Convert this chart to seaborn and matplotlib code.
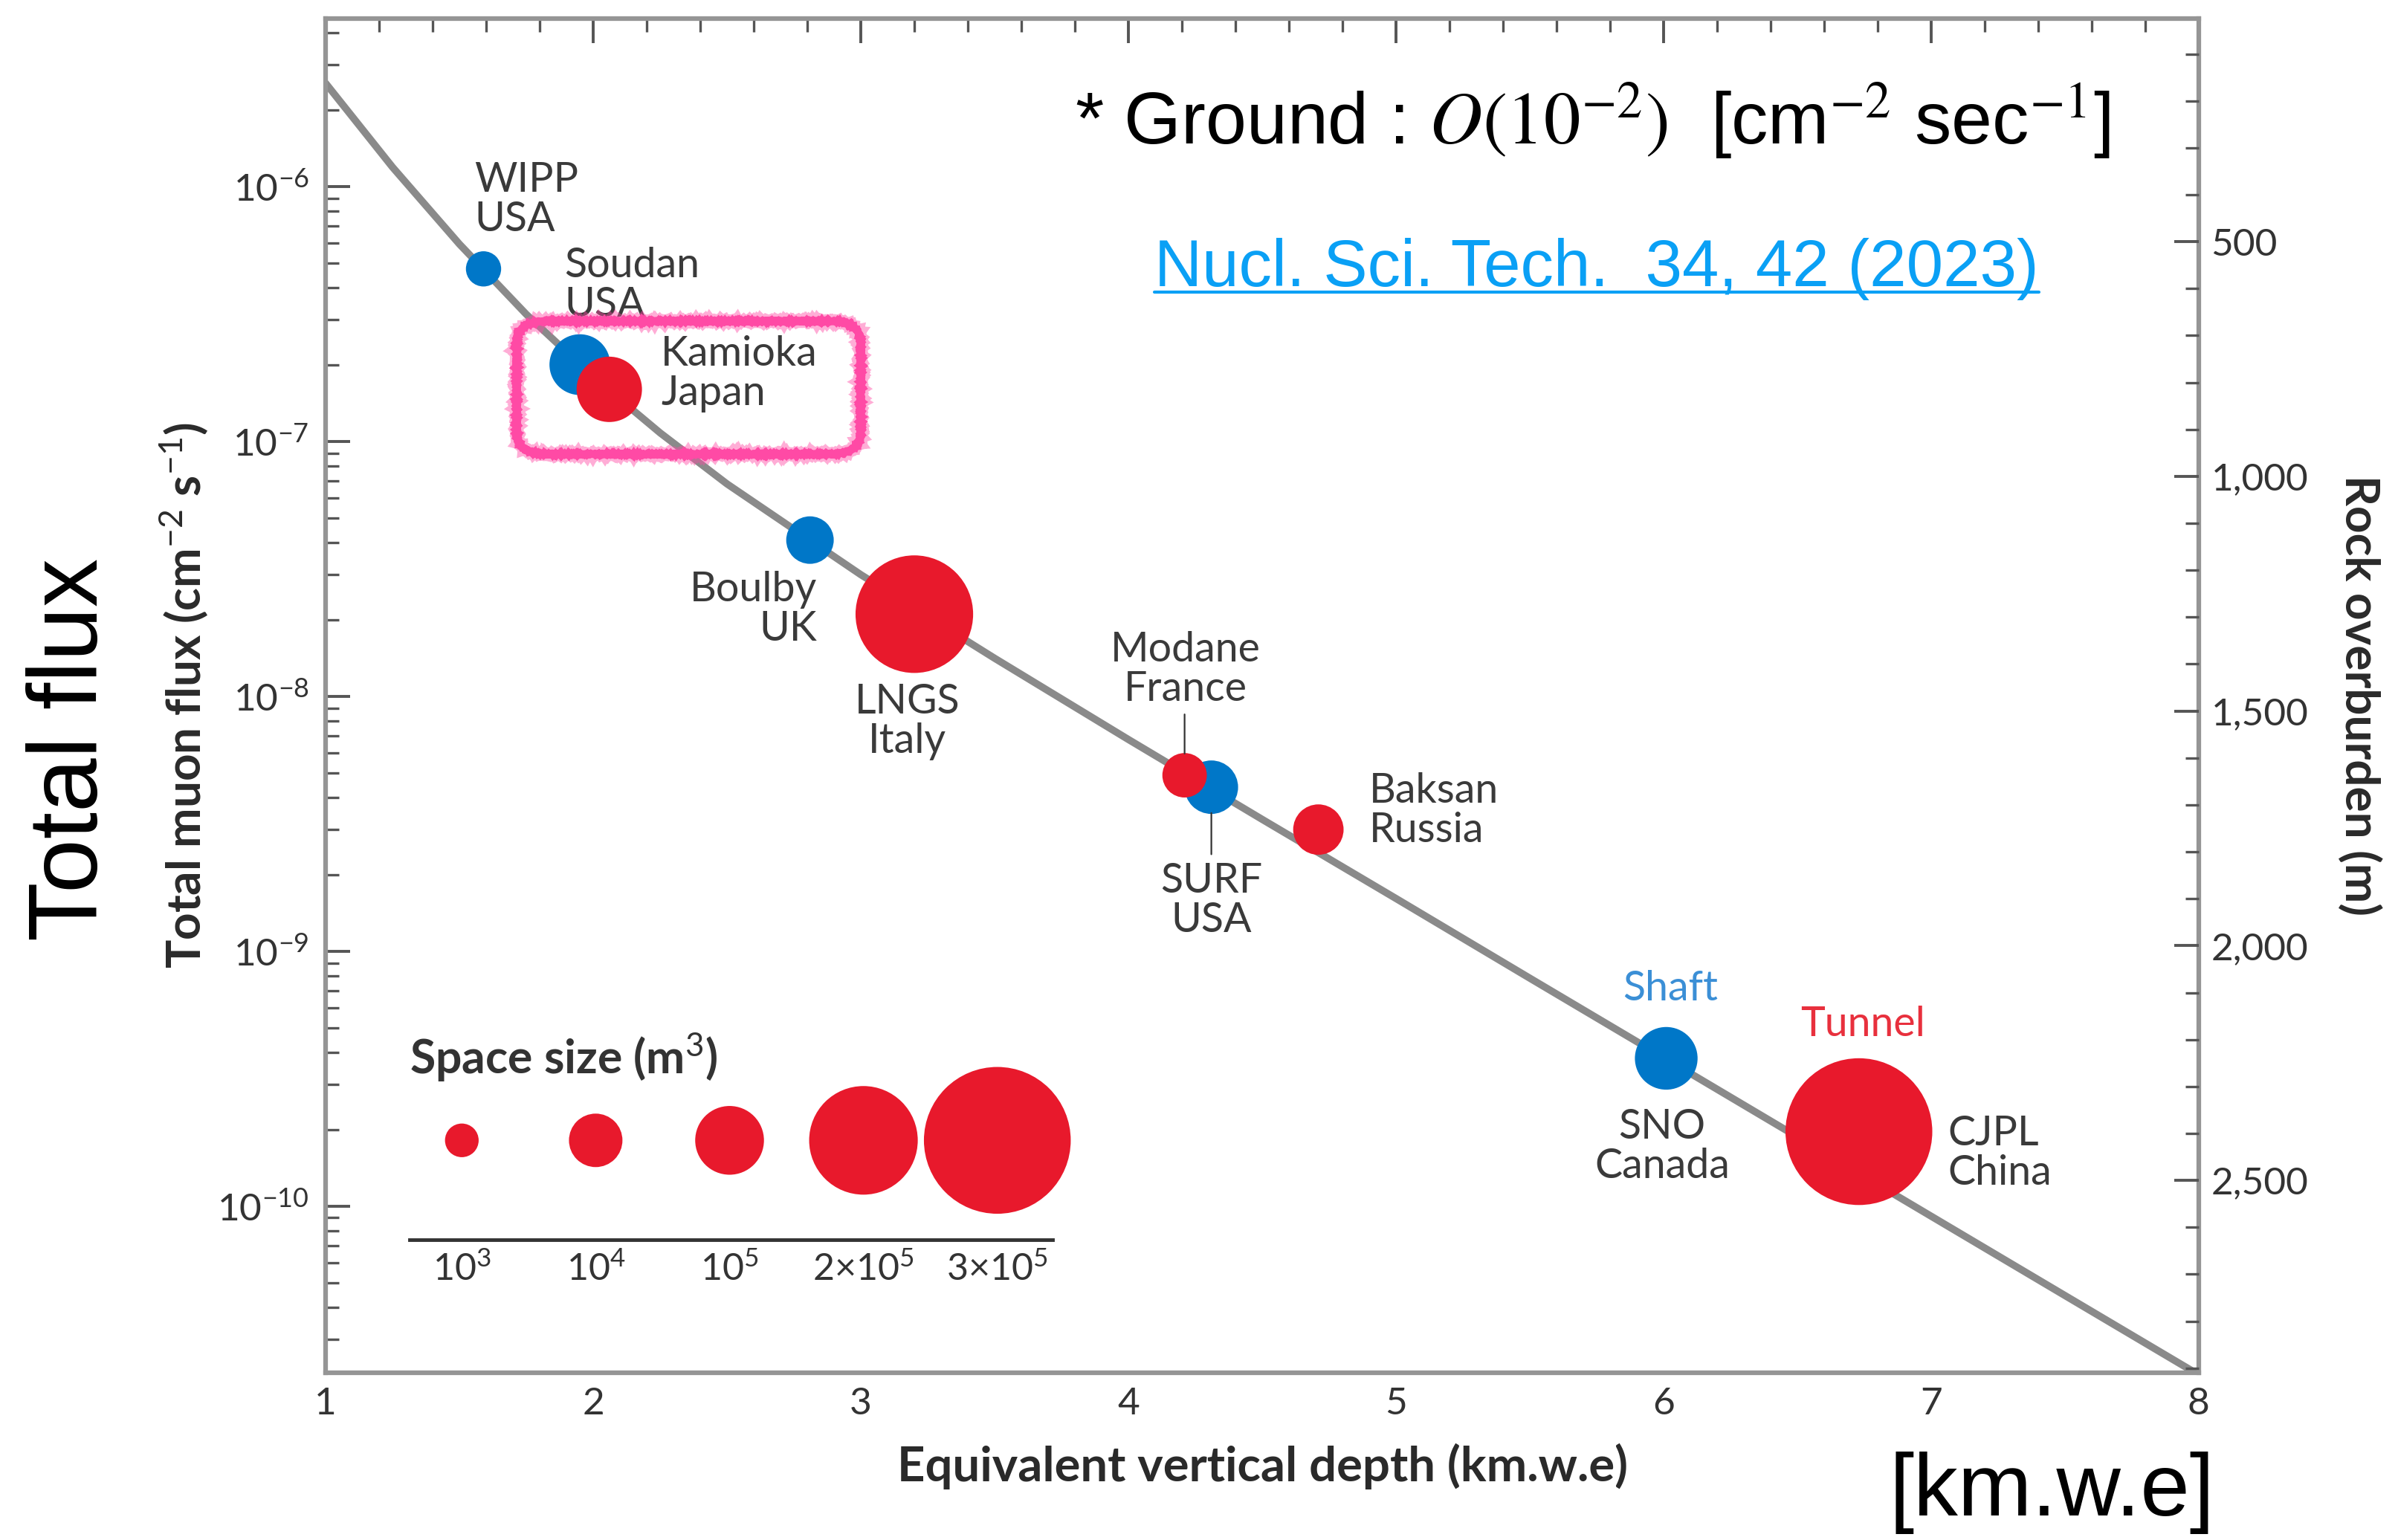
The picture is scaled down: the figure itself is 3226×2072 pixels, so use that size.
import numpy as np
import pandas as pd
import matplotlib
matplotlib.use("Agg")
import matplotlib.pyplot as plt
import seaborn as sns
from matplotlib.ticker import MultipleLocator, LogLocator, FixedLocator, FuncFormatter, NullFormatter
from matplotlib.patches import FancyBboxPatch
from matplotlib.lines import Line2D

# ---------------------------------------------------------------- data
labs = ["WIPP", "Soudan", "Kamioka", "Boulby", "LNGS", "SURF", "Modane", "Baksan", "SNO", "CJPL"]
countries = ["USA", "USA", "Japan", "UK", "Italy", "USA", "France", "Russia", "Canada", "China"]
access = ["Shaft", "Shaft", "Tunnel", "Shaft", "Tunnel", "Shaft", "Tunnel", "Tunnel", "Shaft", "Tunnel"]
depth_kmwe = [1.59, 1.95, 2.06, 2.81, 3.20, 4.31, 4.21, 4.71, 6.01, 6.73]
muon_flux = [4.75e-7, 2.0e-7, 1.6e-7, 4.1e-8, 2.1e-8, 4.4e-9, 4.9e-9, 3.0e-9, 3.8e-10, 1.96e-10]
space_m3 = [1.2e3, 3e4, 6e4, 5e3, 2.2e5, 1e4, 3.5e3, 7e3, 4e4, 3e5]

# depth-intensity curve
curve_depth = [1.0, 1.25, 1.5, 1.75, 2.0, 2.25, 2.5, 3.0, 3.5, 4.0, 4.5, 5.0, 5.5, 6.0, 6.5, 7.0, 7.5, 8.0]
curve_flux = [2.54e-6, 1.19e-6, 5.94e-7, 3.15e-7, 1.79e-7, 1.08e-7, 6.81e-8, 3.0e-8, 1.41e-8,
              6.77e-9, 3.29e-9, 1.61e-9, 7.84e-10, 3.83e-10, 1.87e-10, 9.13e-11, 4.46e-11, 2.18e-11]

# space-size key
key_volumes = [1e3, 1e4, 1e5, 2e5, 3e5]
key_labels = ["10$^3$", "10$^4$", "10$^5$", "2\u00d710$^5$", "3\u00d710$^5$"]
key_radius_pt = [16.3, 25.9, 33.3, 52.6, 71.1]

overburden_ticks = [500, 1000, 1500, 2000, 2500]

# ---------------------------------------------------------------- style
sns.set_style("white")
plt.rcParams["font.family"] = ["Lato", "DejaVu Sans"]
plt.rcParams["mathtext.fontset"] = "custom"
plt.rcParams["mathtext.rm"] = "Lato"
plt.rcParams["mathtext.it"] = "Lato:italic"
plt.rcParams["mathtext.bf"] = "Lato:bold"

RED = "#E8192C"
BLUE = "#0077C8"
TXT = "#3a3a3a"
SPINE = "#959595"
TICK = "#555555"


def marker_area(vol):
    r = np.interp(np.log10(vol), np.log10(key_volumes), key_radius_pt)
    return (2 * r) ** 2


df = pd.DataFrame({"lab": labs, "country": countries, "access": access,
                   "depth": depth_kmwe, "flux": muon_flux, "volume": space_m3})
df["area"] = marker_area(df["volume"].to_numpy())
amin, amax = marker_area(np.array(key_volumes)).min(), marker_area(np.array(key_volumes)).max()

fig = plt.figure(figsize=(32.26, 20.72), dpi=100)
ax = fig.add_axes([0.1358, 0.1086, 0.7811, 0.8794])
ax.set_yscale("log")

sns.lineplot(x=curve_depth, y=curve_flux, color="#8a8a8a", lw=7, ax=ax, zorder=2)
sns.scatterplot(data=df, x="depth", y="flux", hue="access",
                palette={"Shaft": BLUE, "Tunnel": RED},
                size="area", sizes=(amin, amax), size_norm=(amin, amax),
                linewidth=0, edgecolor="none", legend=False, ax=ax, zorder=3)

ax.set_xlim(1, 8)
ax.set_ylim(2.22e-11, 4.56e-6)

# axes frame and ticks
for s in ax.spines.values():
    s.set_color(SPINE)
    s.set_linewidth(4.5)
ax.xaxis.set_major_locator(MultipleLocator(1))
ax.xaxis.set_minor_locator(MultipleLocator(0.2))
ax.yaxis.set_major_locator(FixedLocator([1e-10, 1e-9, 1e-8, 1e-7, 1e-6]))
ax.yaxis.set_major_formatter(FuncFormatter(lambda v, p: r"$10^{%d}$" % round(np.log10(v))))
ax.yaxis.set_minor_locator(LogLocator(base=10, subs=np.arange(2, 10)))
ax.yaxis.set_minor_formatter(NullFormatter())
ax.tick_params(which="both", direction="in", colors=TICK, top=True, right=False,
               labelcolor="#333333", labelsize=37)
ax.tick_params(which="major", length=24, width=2.8)
ax.tick_params(which="minor", length=13, width=2.4)
ax.tick_params(axis="x", pad=14)
ax.tick_params(axis="y", pad=16)

ax.set_xlabel("Equivalent vertical depth (km.w.e)", fontsize=47, fontweight="bold", color="#2a2a2a")
ax.set_ylabel("Total muon flux (cm$^{-2}$ s$^{-1}$)", fontsize=46, fontweight="bold", color="#2a2a2a")
ax.xaxis.set_label_coords(0.5, -0.052)
ax.yaxis.set_label_coords(-0.062, 0.5)

# rock overburden scale on the right
ax2 = ax.twinx()
ax2.set_ylim(2910, 24.4)
for s in ax2.spines.values():
    s.set_visible(False)
ax2.yaxis.set_major_locator(FixedLocator(overburden_ticks))
ax2.yaxis.set_minor_locator(MultipleLocator(100))
ax2.yaxis.set_major_formatter(FuncFormatter(lambda v, p: f"{int(v):,}"))
ax2.tick_params(which="both", direction="in", colors=TICK, labelcolor="#333333", labelsize=37, pad=12)
ax2.tick_params(which="major", length=24, width=2.8)
ax2.tick_params(which="minor", length=13, width=2.4)
ax2.set_ylabel("Rock overburden (m)", fontsize=46, fontweight="bold", color="#2a2a2a", rotation=-90)
ax2.yaxis.set_label_coords(1.098, 0.5)

# site labels
label_offsets = {
    "WIPP": (-9, 67, "left"), "Soudan": (-15, 77, "left"), "Kamioka": (50, 15, "left"),
    "Boulby": (7, -67, "right"), "LNGS": (-7, -104, "center"), "SURF": (0, -110, "center"),
    "Modane": (1, 102, "center"), "Baksan": (49, 18, "left"), "SNO": (-4, -86, "center"),
    "CJPL": (86, -21, "left"),
}
for _, row in df.iterrows():
    dx, dy, ha = label_offsets[row["lab"]]
    ax.annotate(f"{row['lab']}\n{row['country']}", xy=(row["depth"], row["flux"]),
                xytext=(dx, dy), textcoords="offset points", ha=ha, va="center",
                fontsize=40, color=TXT, linespacing=1.05, zorder=4)

# leader lines for the overlapping Modane / SURF pair: (far end, gap at the point)
leaders = {"Modane": (59, 21), "SURF": (-65, 25)}
for lab, (far, gap) in leaders.items():
    row = df[df["lab"] == lab].iloc[0]
    ax.annotate("", xy=(row["depth"], row["flux"]), xytext=(0, far),
                textcoords="offset points",
                arrowprops=dict(arrowstyle="-", color="#333333", lw=1.6,
                                shrinkA=0, shrinkB=gap))

# access type tags
sno = df[df["lab"] == "SNO"].iloc[0]
cjpl = df[df["lab"] == "CJPL"].iloc[0]
ax.annotate("Shaft", xy=(sno["depth"], sno["flux"]), xytext=(4, 67), textcoords="offset points",
            ha="center", va="center", fontsize=40, color="#3b8fd6")
ax.annotate("Tunnel", xy=(cjpl["depth"], cjpl["flux"]), xytext=(4, 104), textcoords="offset points",
            ha="center", va="center", fontsize=40, color="#e8303d")

# highlight box around Kamioka (marker-pen look: a soft wide stroke under a rough core)
for lw, alpha, sketch in [(12, 0.45, (1.0, 4, 2)), (7.5, 1.0, (0.8, 3, 2))]:
    box = FancyBboxPatch((0.102, 0.6783), 0.1837, 0.0982,
                         boxstyle="round,pad=0,rounding_size=0.016", transform=ax.transAxes,
                         ec="#FF4AA5", fc="none", lw=lw, alpha=alpha, clip_on=False, zorder=5)
    box.set_sketch_params(*sketch)
    ax.add_patch(box)

# space size key
key = ax.inset_axes([0.0449, 0.0982, 0.343, 0.148])
key.patch.set_visible(False)
key_df = pd.DataFrame({"pos": np.arange(len(key_volumes)), "y": 0.496,
                       "area": marker_area(np.array(key_volumes))})
sns.scatterplot(data=key_df, x="pos", y="y", size="area", sizes=(amin, amax), size_norm=(amin, amax),
                color=RED, linewidth=0, edgecolor="none", legend=False, ax=key, clip_on=False)
key.set_xlim(-0.389, 4.41)
key.set_ylim(0, 1)
for side in ["left", "right", "top"]:
    key.spines[side].set_visible(False)
key.spines["bottom"].set_color("#333333")
key.spines["bottom"].set_linewidth(3.5)
key.set_xticks(range(len(key_volumes)), key_labels)
key.set_yticks([])
key.tick_params(axis="x", direction="in", length=18, width=3, color="#333333",
                labelsize=36, labelcolor="#333333", pad=12)
key.set_xlabel("")
key.set_ylabel("")
key.text(0.0, 0.908, "Space size (m$^3$)", transform=key.transAxes, ha="left", va="center",
         fontsize=45, fontweight="bold", color="#333333")

# annotations outside the axes
fig.text(0.4483, 0.9067, r"* Ground : $\mathit{O}(10^{-2})$  [cm$^{-2}$ sec$^{-1}$]",
         fontsize=71, family="Liberation Sans", math_fontfamily="stix", color="black",
         ha="left", va="baseline")
ref = fig.text(0.4815, 0.8143, "Nucl. Sci. Tech.  34, 42 (2023)", fontsize=64,
               family="Liberation Sans", color="#0AA0F5", ha="left", va="baseline")
fig.text(0.030, 0.5134, "Total flux", fontsize=94, family="Liberation Sans", rotation=90,
         ha="center", va="center", color="black")
fig.text(0.9235, 0.004, "[km.w.e]", fontsize=86, family="Liberation Sans",
         ha="right", va="bottom", color="black")

fig.canvas.draw()
bb = ref.get_window_extent().transformed(fig.transFigure.inverted())
fig.add_artist(Line2D([bb.x0, bb.x1], [0.8103, 0.8103], transform=fig.transFigure,
                      color="#0AA0F5", lw=3))

fig.savefig("out.png", dpi=100)
